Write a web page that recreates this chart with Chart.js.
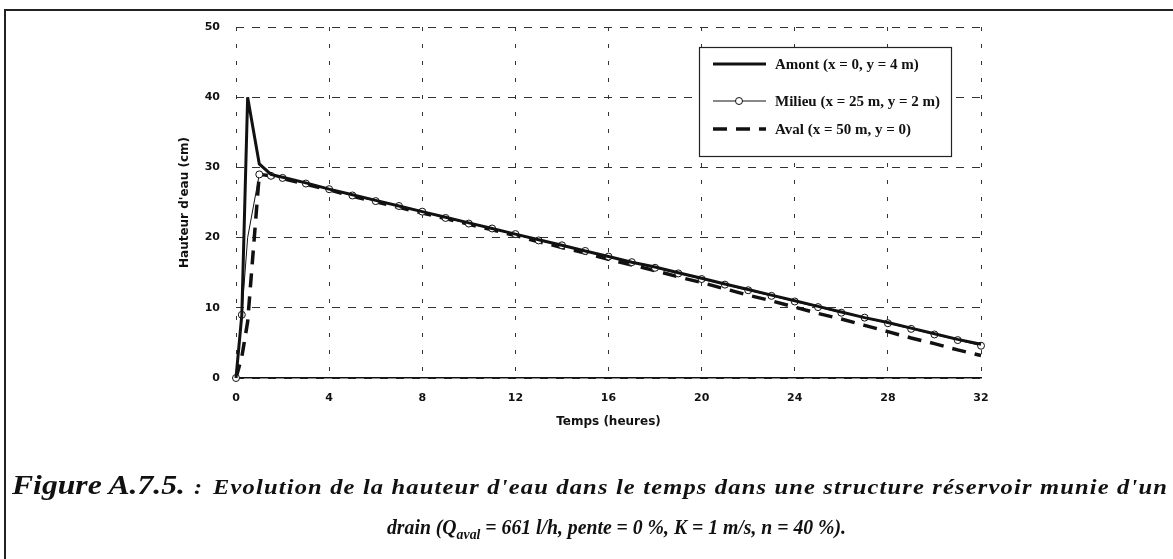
<!DOCTYPE html>
<html>
<head>
<meta charset="utf-8">
<script src="https://cdn.jsdelivr.net/npm/chart.js@4.4.1/dist/chart.umd.min.js"></script>
<style>
  html, body { margin:0; padding:0; background:#fff; }
  #wrap { position:relative; width:1173px; height:559px; overflow:hidden; background:#fff; }
  #frame { position:absolute; left:4px; top:9px; width:1175px; height:560px; border-left:2px solid #222; border-top:2px solid #222; }
  canvas { position:absolute; left:0; top:0; }
  .cap { position:absolute; white-space:nowrap; font-family:"Liberation Serif","Times New Roman",serif; font-weight:bold; font-style:italic; color:#111; transform-origin:0 0; line-height:1; }
</style>
</head>
<body>
<div id="wrap">
  <div id="frame"></div>
  <canvas id="c" width="1173" height="559"></canvas>
  <span class="cap" id="cap1" data-w="173" style="left:12px; top:472px; font-size:27px;">Figure A.7.5.</span>
  <span class="cap" id="cap1b" data-w="8" style="left:194px; top:477px; font-size:21px;">:</span>
  <span class="cap" id="cap2" data-w="955" style="left:213px; top:477px; font-size:21px; letter-spacing:1px;">Evolution de la hauteur d'eau dans le temps dans une structure réservoir munie d'un</span>
  <span class="cap" id="cap3" data-w="459" style="left:387px; top:517px; font-size:20px;">drain (Q<sub style="font-size:14px;">aval</sub> = 661 l/h, pente = 0 %, K = 1 m/s, n = 40 %).</span>
</div>
<script>
// ---- data ----
const times = [0, 0.25, 0.5, 1, 1.5, 2, 3, 4, 5, 6, 7, 8, 9, 10, 11, 12, 13, 14, 15, 16, 17, 18, 19, 20, 21, 22, 23, 24, 25, 26, 27, 28, 29, 30, 31, 32];
const amont = [0, 9, 40, 30.5, 29.0, 28.6, 27.8, 26.9, 26.1, 25.3, 24.5, 23.7, 22.9, 22.1, 21.3, 20.5, 19.7, 18.9, 18.1, 17.3, 16.5, 15.8, 15.0, 14.2, 13.4, 12.6, 11.8, 11.0, 10.2, 9.4, 8.6, 7.9, 7.1, 6.3, 5.5, 4.8];
const milieu = [0, 9, 20, 29, 28.8, 28.5, 27.7, 26.9, 26.0, 25.2, 24.5, 23.7, 22.8, 22.0, 21.3, 20.5, 19.6, 18.9, 18.1, 17.3, 16.5, 15.7, 14.9, 14.1, 13.3, 12.5, 11.7, 10.9, 10.1, 9.3, 8.6, 7.8, 7.0, 6.2, 5.4, 4.6];
const aval = [0, 3, 8, 29, 28.8, 28.4, 27.6, 26.8, 25.9, 25.1, 24.3, 23.5, 22.7, 21.9, 21.1, 20.3, 19.4, 18.6, 17.8, 16.9, 16.1, 15.3, 14.4, 13.6, 12.7, 11.8, 11.0, 10.1, 9.2, 8.4, 7.5, 6.6, 5.7, 4.9, 4.0, 3.2];
const seriesLabels = ["Amont (x = 0, y = 4 m)", "Milieu (x = 25 m, y = 2 m)", "Aval (x = 50 m, y = 0)"];
const xTitle = "Temps (heures)";
const yTitle = "Hauteur d'eau (cm)";

const pts = v => times.map((t, i) => ({x: t, y: v[i]}));

const legendPlugin = {
  id: 'boxLegend',
  afterDraw(chart) {
    const ctx = chart.ctx;
    const bx = 699, by = 47, bw = 252, bh = 109;
    ctx.save();
    ctx.fillStyle = '#fff';
    ctx.fillRect(bx, by, bw, bh);
    ctx.strokeStyle = '#222';
    ctx.lineWidth = 1.2;
    ctx.strokeRect(bx + 0.5, by + 0.5, bw, bh);
    const rows = [64, 101, 129];
    ctx.font = 'bold 15px "Liberation Serif", "Times New Roman", serif';
    ctx.textBaseline = 'middle';
    ctx.fillStyle = '#111';
    chart.data.datasets.forEach((ds, i) => {
      const y = rows[i];
      ctx.save();
      ctx.strokeStyle = ds.borderColor;
      ctx.lineWidth = ds.borderWidth;
      ctx.setLineDash(ds.borderDash || []);
      ctx.beginPath();
      ctx.moveTo(713, y);
      ctx.lineTo(766, y);
      ctx.stroke();
      ctx.restore();
      if (ds.legendMarker) {
        ctx.save();
        ctx.beginPath();
        ctx.arc(739, y, 3.5, 0, Math.PI * 2);
        ctx.fillStyle = '#fff';
        ctx.fill();
        ctx.strokeStyle = '#111';
        ctx.lineWidth = 1;
        ctx.stroke();
        ctx.restore();
      }
      ctx.fillText(ds.label, 775, y + 1);
    });
    ctx.restore();
  }
};

const tickFont = {family: '"DejaVu Sans", Arial, sans-serif', size: 11, weight: 'bold'};
const titleFont = {family: '"DejaVu Sans", Arial, sans-serif', size: 12, weight: 'bold'};

new Chart(document.getElementById('c'), {
  type: 'line',
  data: {
    datasets: [
      { label: seriesLabels[0], data: pts(amont), borderColor: '#111', borderWidth: 3, pointRadius: 0, tension: 0, clip: false },
      { label: seriesLabels[1], data: pts(milieu), borderColor: '#111', borderWidth: 1, tension: 0, clip: false,
        legendMarker: true,
        pointRadius: c => (times[c.dataIndex] === 0.5 ? 0 : 3.5),
        pointBackgroundColor: '#fff', pointBorderColor: '#111', pointBorderWidth: 1 },
      { label: seriesLabels[2], data: pts(aval), borderColor: '#111', borderWidth: 3.5, borderDash: [14, 9], pointRadius: 0, tension: 0, clip: false }
    ]
  },
  options: {
    responsive: false,
    animation: false,
    devicePixelRatio: 1,
    layout: { padding: { left: 174, right: 192, top: 27, bottom: 130 } },
    plugins: { legend: { display: false }, tooltip: { enabled: false } },
    scales: {
      x: {
        type: 'linear', min: 0, max: 32,
        ticks: { stepSize: 4, font: tickFont, color: '#111', padding: 14, maxRotation: 0 },
        grid: { color: '#333', lineWidth: 1, drawTicks: false },
        border: { display: true, color: '#111', width: 1.5, dash: [4, 13] },
        title: { display: true, text: xTitle, font: titleFont, color: '#111', padding: 0 },
        afterFit: s => { s.height = 51; }
      },
      y: {
        type: 'linear', min: 0, max: 50,
        ticks: { stepSize: 10, font: tickFont, color: '#111', padding: 16 },
        grid: { color: '#333', lineWidth: 1, drawTicks: false },
        border: { display: false, dash: [8, 8] },
        title: { display: true, text: yTitle, font: titleFont, color: '#111', padding: { top: 4, bottom: 0 } },
        afterFit: s => { s.width = 62; }
      }
    }
  },
  plugins: [legendPlugin]
});

// fit caption widths
document.querySelectorAll('.cap').forEach(el => {
  const target = parseFloat(el.dataset.w);
  const w = el.getBoundingClientRect().width;
  if (w > 0) el.style.transform = 'scaleX(' + (target / w) + ')';
});
</script>
</body>
</html>
